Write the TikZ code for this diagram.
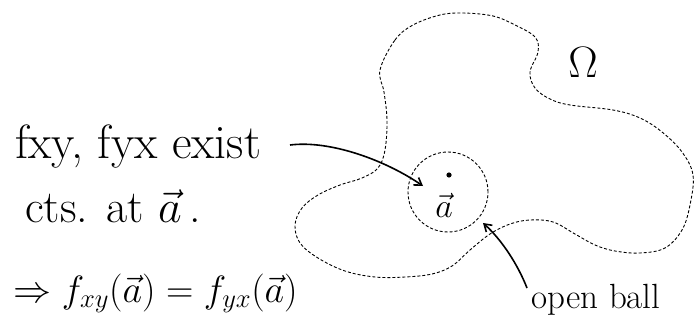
\RequirePackage{fix-cm}
\documentclass[tikz,border=0pt]{standalone}
\usepackage{amsmath}
\usetikzlibrary{arrows.meta,positioning,calc}

\begin{document}
\begin{tikzpicture}[
    x=1pt, y=-1pt,
    hand/.style={inner sep=0pt, font=\fontsize{48}{54}\selectfont},
    region/.style={draw=black, line width=0.9pt, dash pattern=on 3pt off 2pt},
    ptr/.style={-{Straight Barb[length=7pt,width=9pt]}, line width=1.6pt}
]
\useasboundingbox (0,0) rectangle (696,326);
% the set Omega
\draw[region] plot[smooth cycle, tension=0.6] coordinates {
    (380,70) (395,40) (413,25) (440,15) (463,13) (493,16) (515,25) (535,37)
    (538,52) (530,72) (535,88) (550,99) (570,105) (613,110) (640,118) (662,132)
    (682,152) (693,175) (690,205) (682,230) (665,248) (640,253) (615,251)
    (595,245) (575,234) (553,222) (530,220) (510,224) (490,234) (470,250)
    (452,266) (432,274) (405,277) (375,277) (345,271) (318,258) (300,243)
    (295,225) (302,208) (318,195) (340,185) (362,178) (378,168) (385,150)
    (387,120) (384,92)};
\node[hand, font=\fontsize{44}{50}\selectfont] (omega) at (583,62) {$\Omega$};
% open ball round a
\node[region, circle, minimum size=80pt, inner sep=0pt] (ball) at (448,192) {};
\fill (449,175) circle (2.6pt);
\node[hand, font=\fontsize{34}{40}\selectfont] (avec) at (444,205) {$\vec{a}$};
% hypotheses
\node[hand, anchor=base west] (hyp1) at (15,158) {fxy, fyx exist};
\node[hand, anchor=base west, font=\fontsize{46}{52}\selectfont] (hyp2) at (25,222)
    {cts. at $\vec{a}$\,.};
\node[hand, anchor=base west, font=\fontsize{38}{44}\selectfont] (concl) at (13,302)
    {$\Rightarrow f_{xy}(\vec{a})=f_{yx}(\vec{a})$};
\node[hand, font=\fontsize{35}{40}\selectfont] (obl) at (596,300) {open ball};
% pointers
\coordinate (p1) at (290,145);
\coordinate (p2) at (423,186);
\coordinate (q1) at (527,288);
\coordinate (q2) at (483,223);
\draw[ptr] (p1) .. controls (330,140) and (385,160) .. (p2);
\draw[ptr] (q1) .. controls (518,265) and (502,240) .. (q2);
\end{tikzpicture}
\end{document}
